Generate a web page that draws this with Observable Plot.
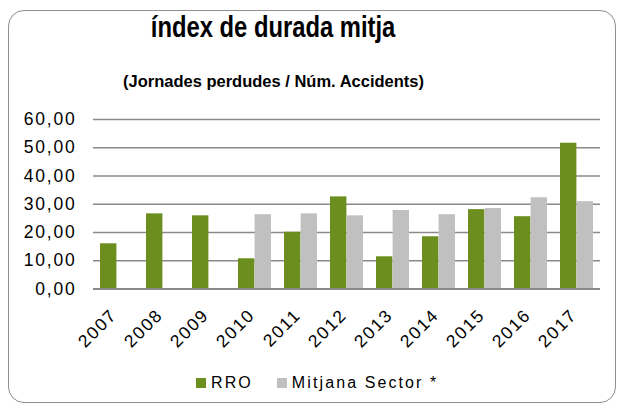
<!DOCTYPE html>
<html>
<head>
<meta charset="utf-8">
<script src="https://cdn.jsdelivr.net/npm/d3@7"></script>
<script src="https://cdn.jsdelivr.net/npm/@observablehq/plot@0.6"></script>
<style>
  html, body { margin: 0; padding: 0; background: #fff; }
  body { width: 617px; height: 405px; position: relative; overflow: hidden; font-family: "Liberation Sans", Arial, sans-serif; color: #000; }
  #frame { position: absolute; left: 8px; top: 10px; width: 606px; height: 391px; border: 1.5px solid #8f8f8f; border-radius: 16px; }
  #title { position: absolute; left: 0; width: 546px; top: 9px; text-align: center; font-weight: bold; font-size: 29px; line-height: 36px; }
  #title span { display: inline-block; transform: scaleX(0.82); transform-origin: 50% 50%; }
  #subtitle { position: absolute; left: 0; width: 547px; top: 71px; text-align: center; font-weight: bold; font-size: 16.5px; line-height: 20px; }
  #chart { position: absolute; left: 0; top: 100px; }
  #legend { position: absolute; left: 196px; top: 376px; font-size: 16px; letter-spacing: 2.1px; line-height: 14px; display: flex; align-items: center; }
  .sw { display: inline-block; width: 10px; height: 10px; margin-right: 5px; }
  .item { display: flex; align-items: center; margin-right: 24px; }
</style>
</head>
<body>
<div id="frame"></div>
<div id="title"><span>índex de durada mitja</span></div>
<div id="subtitle">(Jornades perdudes / Núm. Accidents)</div>
<div id="chart"></div>
<div id="legend"></div>
<script>
const years = ["2007","2008","2009","2010","2011","2012","2013","2014","2015","2016","2017"];
const rro = [16.0, 26.6, 25.9, 10.7, 20.1, 32.6, 11.4, 18.5, 28.1, 25.6, 51.6];
const sector = [null, null, null, 26.3, 26.6, 25.9, 27.8, 26.3, 28.5, 32.3, 30.9];
const yTicks = [0, 10, 20, 30, 40, 50, 60];
const seriesNames = ["RRO", "Mitjana Sector *"];
const colors = ["#6b8e1e", "#c0c0c0"];

const rroData = years.map((y, i) => ({year: y, value: rro[i]}));
const sectorData = years.map((y, i) => ({year: y, value: sector[i]})).filter(d => d.value != null);

const half = 16.6;
const chart = Plot.plot({
  width: 617,
  height: 260,
  marginTop: 19,
  marginBottom: 71.5,
  marginLeft: 93,
  marginRight: 17,
  style: {fontFamily: "Liberation Sans, Arial, sans-serif", fontSize: "17.5px", letterSpacing: "1.8px", color: "#000", background: "transparent", overflow: "visible"},
  x: {domain: years, paddingInner: 0.28, paddingOuter: 0.14, label: null},
  y: {domain: [0, 60], label: null},
  marks: [
    Plot.gridY(yTicks.slice(1), {stroke: "#8a8a8a", strokeOpacity: 1, strokeWidth: 1.5}),
    Plot.barY(rroData, {x: "year", y: "value", fill: colors[0], insetRight: half}),
    Plot.barY(sectorData, {x: "year", y: "value", fill: colors[1], insetLeft: half}),
    Plot.ruleY([0], {stroke: "#8a8a8a", strokeWidth: 2}),
    Plot.axisY({ticks: yTicks, tickSize: 0, tickPadding: 17, tickFormat: d => d.toFixed(2).replace(".", ","), label: null}),
    Plot.axisX({tickSize: 0, tickRotate: -45, tickPadding: 23, dx: -3, label: null})
  ]
});
document.getElementById("chart").appendChild(chart);

const legend = document.getElementById("legend");
seriesNames.forEach((name, i) => {
  const item = document.createElement("div");
  item.className = "item";
  const sw = document.createElement("span");
  sw.className = "sw";
  sw.style.background = colors[i];
  const t = document.createElement("span");
  t.textContent = name;
  item.appendChild(sw);
  item.appendChild(t);
  legend.appendChild(item);
});
</script>
</body>
</html>
